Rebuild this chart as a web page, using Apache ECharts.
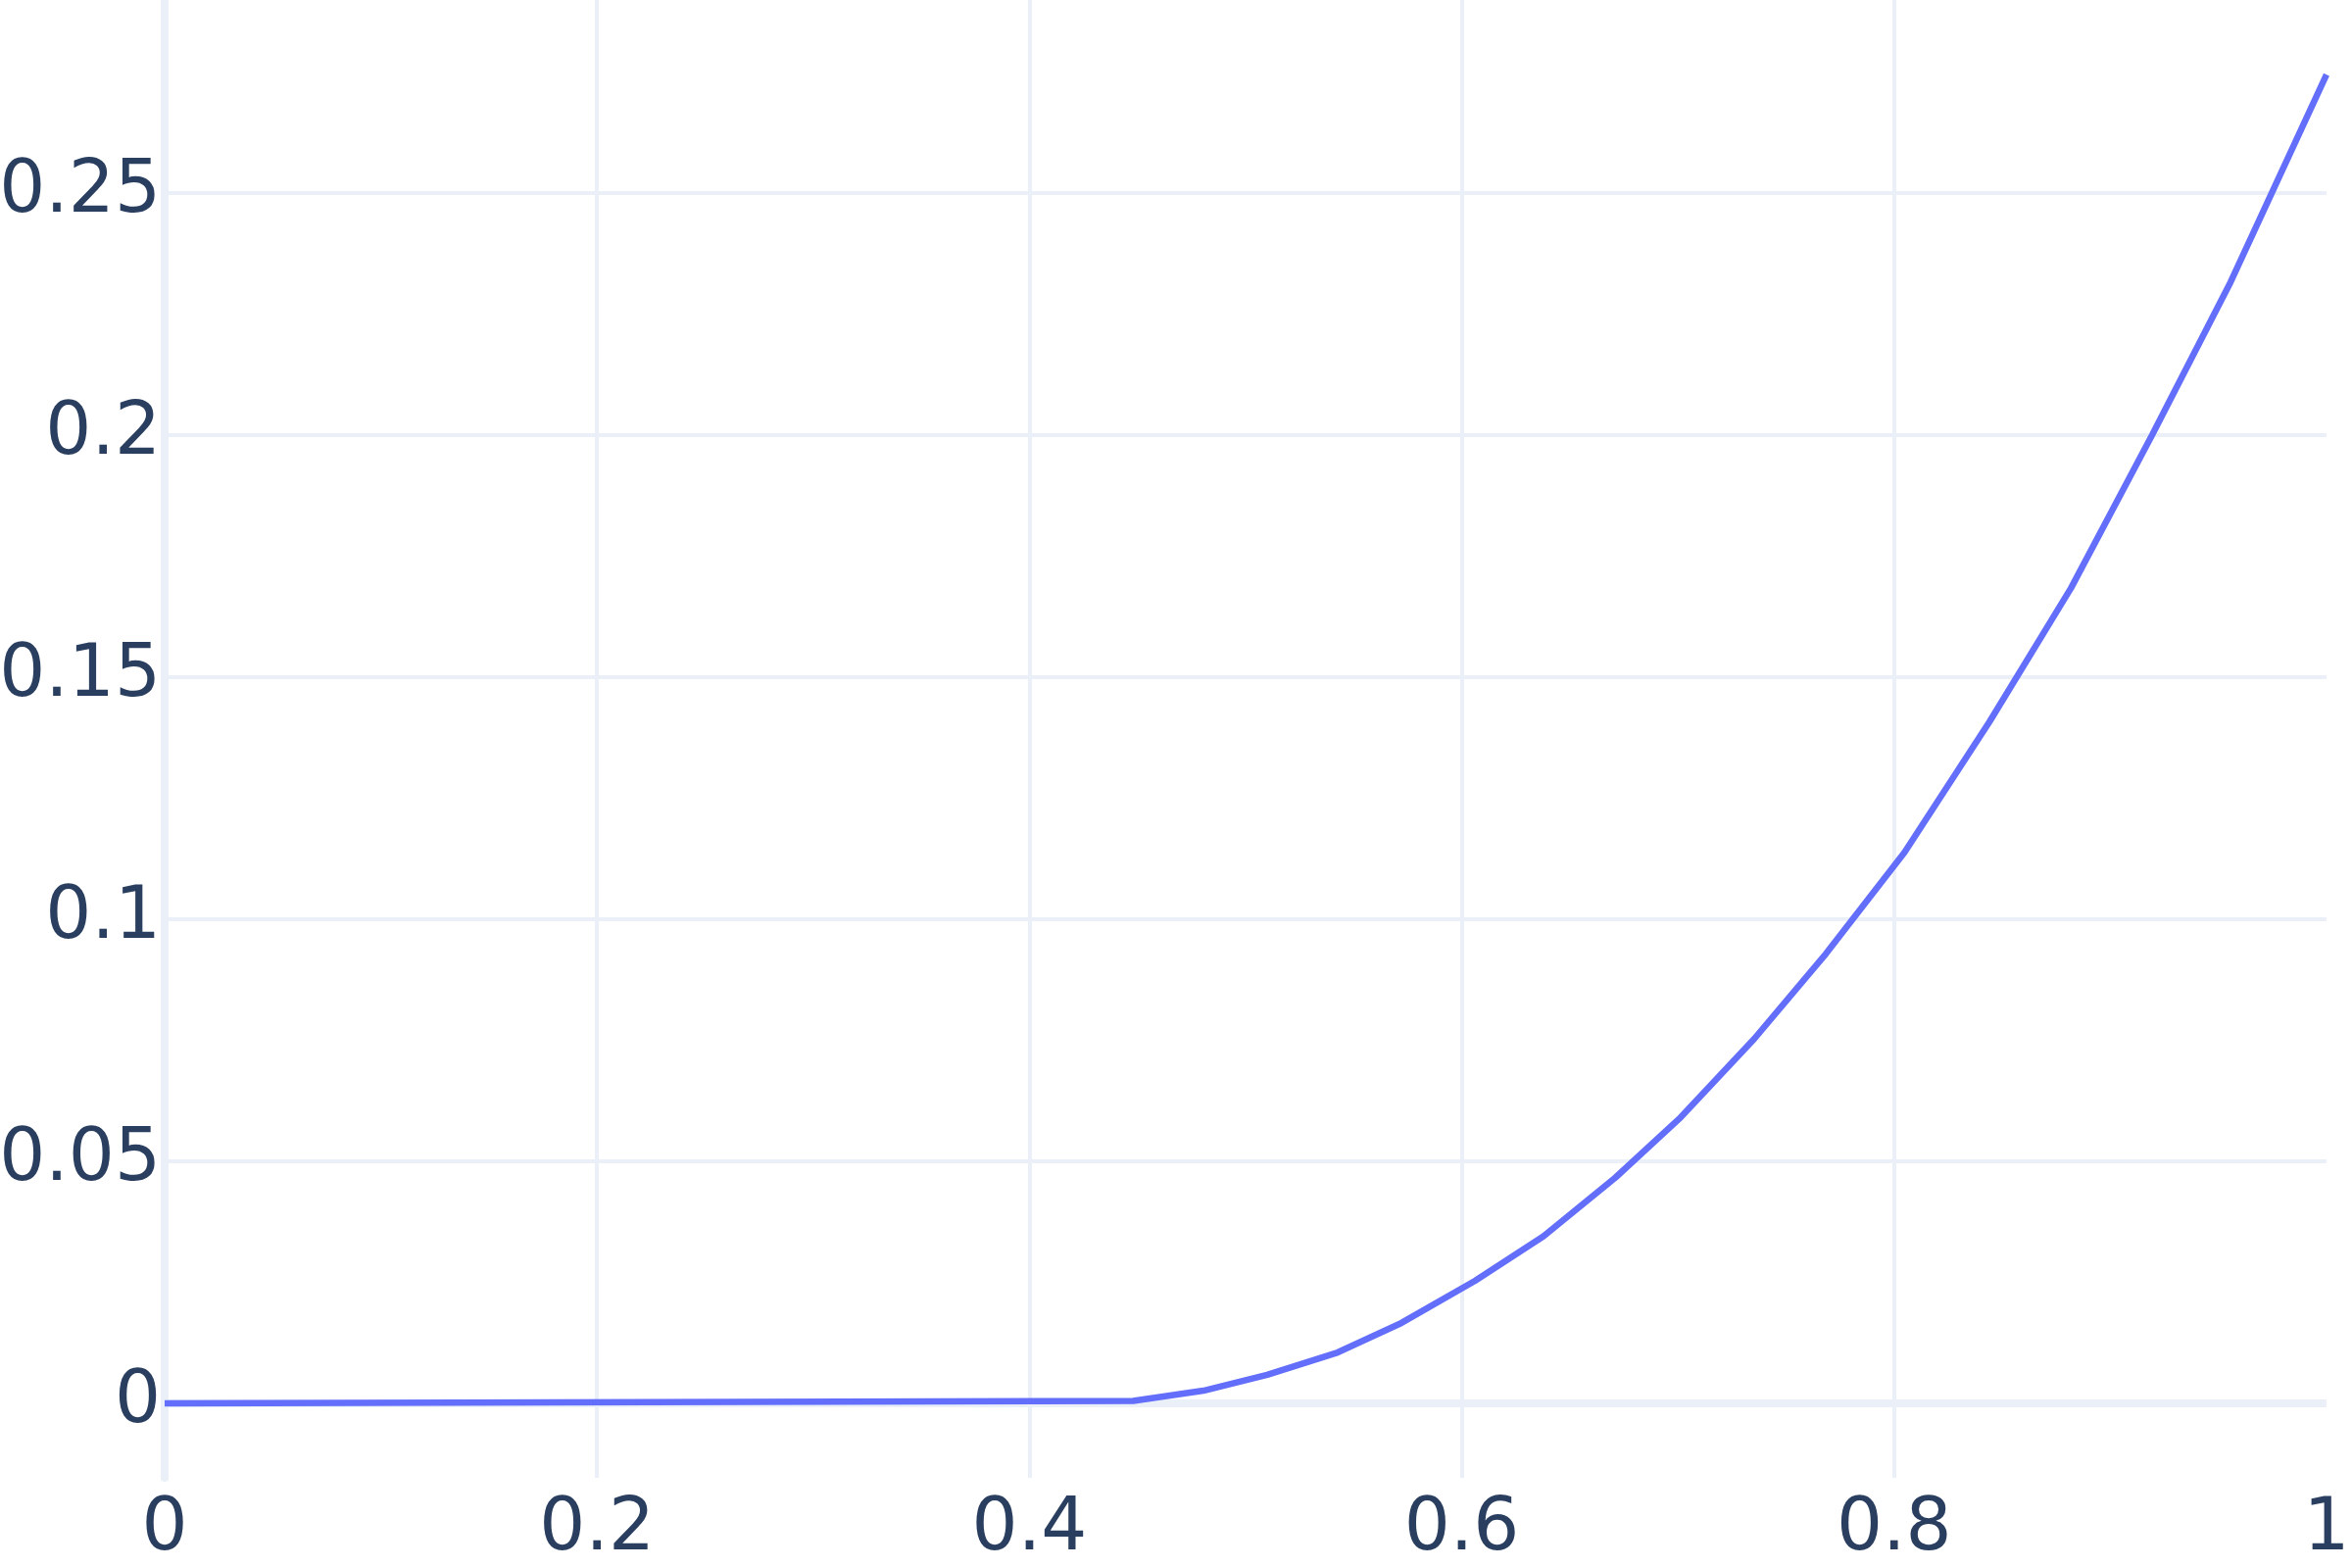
<!DOCTYPE html>
<html>
<head>
<meta charset="utf-8">
<script src="https://cdn.jsdelivr.net/npm/echarts@6/dist/echarts.min.js"></script>
<style>
  html, body { margin: 0; padding: 0; background: #fff; }
  #curveChart { width: 2400px; height: 1600px; }
</style>
</head>
<body>
<div id="curveChart"></div>
<script>
// points
var xValues = [0, 0.448, 0.4805, 0.510, 0.5426, 0.5721, 0.6061, 0.6378, 0.6710, 0.7013,
  0.7353, 0.7685, 0.8048, 0.8441, 0.8818, 0.9193, 0.9556, 1.0];
var yValues = [0, 0.0005, 0.0026, 0.0059, 0.0105, 0.0166, 0.0253, 0.0345, 0.0466, 0.0591,
  0.0753, 0.0929, 0.1138, 0.1408, 0.1684, 0.2000, 0.2316, 0.2745];

// axis ranges / ticks
var xRange = [0, 1];
var xStep = 0.2;
var yRange = [-0.0154, 0.2899];
var yStep = 0.05;

document.addEventListener("DOMContentLoaded", function() {

  var chartDom = document.getElementById('curveChart');
  var curveChart = echarts.init(chartDom);
  var option;

  var gridColor = '#EBF0F8';
  var labelColor = '#2a3f5f';

  option = {
    animation: false,
    backgroundColor: '#fff',
    grid: {
      left: 168,
      right: 26,
      top: 0,
      bottom: 92,
      containLabel: false,
      outerBoundsMode: 'none'
    },
    xAxis: {
      type: 'value',
      min: xRange[0],
      max: xRange[1],
      interval: xStep,
      axisLine: { show: false },
      axisTick: { show: false },
      axisLabel: {
        color: labelColor,
        fontFamily: 'DejaVu Sans',
        fontSize: 74,
        margin: 17,
        formatter: function(v) { return String(+v.toFixed(2)); }
      },
      splitLine: {
        show: true,
        showMinLine: false,
        showMaxLine: false,
        lineStyle: { color: gridColor, width: 4 }
      }
    },
    yAxis: {
      type: 'value',
      min: yRange[0],
      max: yRange[1],
      minInterval: yStep,
      maxInterval: yStep,
      axisLine: {
        show: true,
        onZero: false,
        lineStyle: { color: gridColor, width: 8 }
      },
      axisTick: { show: false },
      axisLabel: {
        color: labelColor,
        fontFamily: 'DejaVu Sans',
        fontSize: 74,
        margin: 4,
        showMinLabel: false,
        showMaxLabel: false,
        formatter: function(v) { return String(+v.toFixed(2)); }
      },
      splitLine: {
        show: true,
        showMinLine: false,
        showMaxLine: false,
        lineStyle: { color: gridColor, width: 4 }
      }
    },
    series: [
      {
        type: 'line',
        data: xValues.map(function(x, i) { return [x, yValues[i]]; }),
        showSymbol: false,
        smooth: false,
        lineStyle: { color: '#636efa', width: 6.5 },
        itemStyle: { color: '#636efa' },
        markLine: {
          silent: true,
          symbol: 'none',
          z: 1,
          label: { show: false },
          lineStyle: { color: gridColor, width: 8, type: 'solid' },
          data: [{ yAxis: 0 }]
        }
      }
    ]
  };

  curveChart.setOption(option);

});
</script>
</body>
</html>
